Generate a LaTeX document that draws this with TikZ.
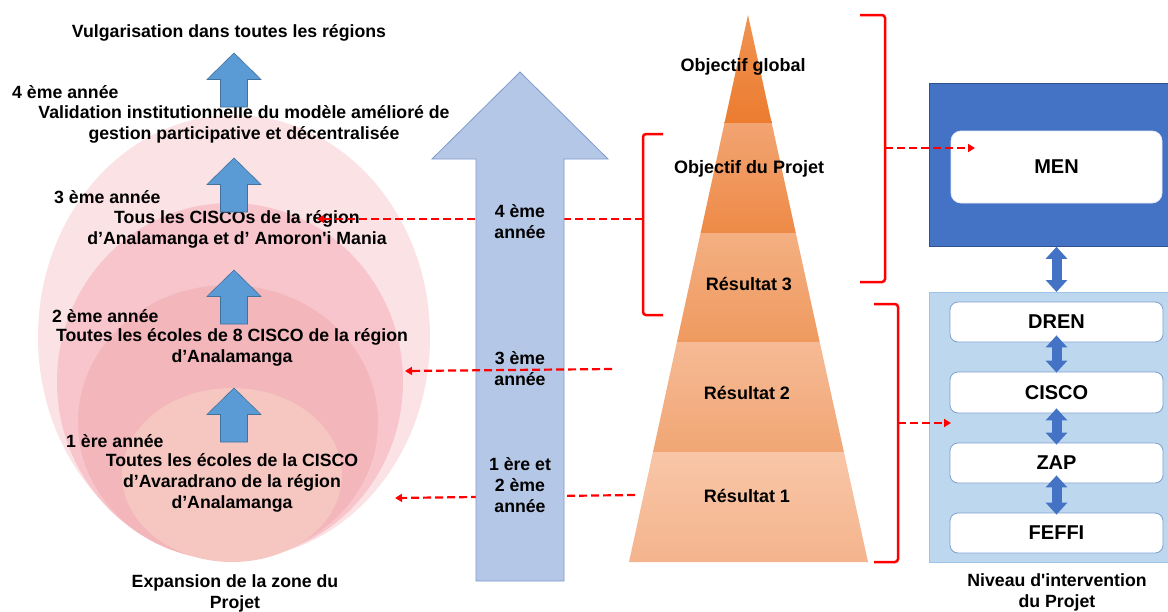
\documentclass[tikz,border=0pt]{standalone}
\usepackage{fontspec}
\setmainfont{Liberation Sans}[Ligatures=TeXOff]
\usetikzlibrary{arrows.meta}
\definecolor{ellA}{HTML}{FBE2E5}
\definecolor{ellB}{HTML}{F8C5CC}
\definecolor{ellC}{HTML}{F2B6BB}
\definecolor{ellD}{HTML}{F6C6C1}
\definecolor{arrBlue}{HTML}{5B9BD5}
\definecolor{arrBlueEdge}{HTML}{41719C}
\definecolor{bigArr}{HTML}{B4C7E7}
\definecolor{bigArrEdge}{HTML}{7F9BCB}
\definecolor{menBlue}{HTML}{4472C4}
\definecolor{menEdge}{HTML}{2F528F}
\definecolor{lvlBlue}{HTML}{BDD7EE}
\definecolor{lvlEdge}{HTML}{9DC3E6}
\definecolor{boxEdge}{HTML}{7F9FD0}
\definecolor{pA1}{HTML}{F09352}\definecolor{pA2}{HTML}{EC7C30}
\definecolor{pB1}{HTML}{F2A472}\definecolor{pB2}{HTML}{EE8A47}
\definecolor{pC1}{HTML}{F4AF82}\definecolor{pC2}{HTML}{EF9A5F}
\definecolor{pD1}{HTML}{F6BA95}\definecolor{pD2}{HTML}{F1A674}
\definecolor{pE1}{HTML}{F8C6A7}\definecolor{pE2}{HTML}{F4B48D}
\begin{document}
\begin{tikzpicture}[x=1pt,y=-1pt,
  lbl/.style={font=\bfseries\fontsize{17.7}{21}\selectfont,align=center,inner sep=0pt},
  lblw/.style={lbl,anchor=west},
  pyrlbl/.style={font=\bfseries\fontsize{18}{21}\selectfont,align=center,inner sep=0pt},
  smallarrow/.style={fill=arrBlue,draw=arrBlueEdge,line width=0.6pt},
  pics/smallup/.style={code={\path[smallarrow] (0,0) -- (27,26.5) -- (13.5,26.5) -- (13.5,54) -- (-13.5,54) -- (-13.5,26.5) -- (-27,26.5) -- cycle;}},
  rdash/.style={draw=red,line width=2.2pt,dash pattern=on 8pt off 4pt,-{Triangle[length=7pt,width=8pt]}},
  bracket/.style={draw=red,line width=2.5pt,rounded corners=3pt},
  dbl/.style={draw=menBlue,line width=10pt,{Triangle[width=21pt,length=12pt]}-{Triangle[width=21pt,length=12pt]}},
  wbox/.style={draw=boxEdge,fill=white,rounded corners=8pt,line width=0.8pt,minimum width=213pt,inner sep=0pt,font=\bfseries\fontsize{20}{24}\selectfont},
  panel/.style={anchor=north west,inner sep=0pt,minimum width=241pt},
]
\useasboundingbox (0,0) rectangle (1168,611);
\fill[white] (0,0) rectangle (1168,611);

% expansion ellipses
\fill[ellA] (234,337) ellipse [x radius=196pt, y radius=222pt];
\fill[ellB] (230,381.5) ellipse [x radius=173pt, y radius=178.5pt];
\fill[ellC] (228,422.5) ellipse [x radius=150pt, y radius=137.5pt];
\fill[ellD] (232,475) ellipse [x radius=110pt, y radius=87pt];

% left texts
\node[lbl] (vulg) at (229,33) {Vulgarisation dans toutes les régions};
\node[lblw] (y4) at (12,92) {4 ème année};
\node[lbl] (val) at (244,124.5) {Validation institutionnelle du modèle amélioré de\\gestion participative et décentralisée};
\node[lblw] (y3) at (54,197) {3 ème année};
\node[lbl] (cis) at (237,229.5) {Tous les CISCOs de la région\\d’Analamanga et d’ Amoron'i Mania};
\node[lblw] (y2) at (52,316) {2 ème année};
\node[lbl] (eco8) at (232,347.5) {Toutes les écoles de 8 CISCO de la région\\d’Analamanga};
\node[lblw] (y1) at (66,441) {1 ère année};
\node[lbl] (eco1) at (232,483) {Toutes les écoles de la CISCO\\d’Avaradrano de la région\\d’Analamanga};
\node[lbl] (exp) at (235,593) {Expansion de la zone du\\Projet};

% small blue arrows
\pic at (234,53) {smallup};
\pic at (234,158) {smallup};
\pic at (234,270) {smallup};
\pic at (234,388) {smallup};

% brackets and their coordinates
\draw[bracket] (663,134) -- (643,134) -- (643,315) -- (663,315);
\draw[bracket] (860,15) -- (885,15) -- (885,282) -- (860,282);
\draw[bracket] (874,304) -- (898,304) -- (898,562) -- (874,562);
\coordinate (brL) at (643,219);
\coordinate (brR) at (885,148);
\coordinate (brD) at (898,423);
\coordinate (tgt4) at (317,219);
\coordinate (src3) at (612,369);
\coordinate (tgt3) at (405,371);
\coordinate (src1) at (635,495);
\coordinate (tgt1) at (395,498);
\coordinate (tgtMen) at (975,148);
\coordinate (tgtLvl) at (951,423);

% dashed arrows behind the big arrow
\draw[rdash] (brL) -- (tgt4);
\draw[rdash] (src1) -- (tgt1);

% big arrow
\path[fill=bigArr,draw=bigArrEdge,line width=0.8pt] (520,72) -- (608,159) -- (564,159) -- (564,581) -- (476,581) -- (476,159) -- (432,159) -- cycle;
\draw[rdash] (src3) -- (tgt3);
\node[lbl] (a4) at (520,221.5) {4 ème\\année};
\node[lbl] (a3) at (520,369) {3 ème\\année};
\node[lbl] (a1) at (520,485.5) {1 ère et\\2 ème\\année};

% pyramid
\shade[top color=pA1,bottom color=pA2] (748,15) -- (771.7,123) -- (724.5,123) -- cycle;
\shade[top color=pB1,bottom color=pB2] (724.5,123) -- (771.7,123) -- (795.8,233) -- (700.6,233) -- cycle;
\shade[top color=pC1,bottom color=pC2] (700.6,233) -- (795.8,233) -- (819.7,342) -- (676.9,342) -- cycle;
\shade[top color=pD1,bottom color=pD2] (676.9,342) -- (819.7,342) -- (843.9,452) -- (653,452) -- cycle;
\shade[top color=pE1,bottom color=pE2] (653,452) -- (843.9,452) -- (868,562) -- (629,562) -- cycle;
\node[pyrlbl] (og) at (743,67) {Objectif global};
\node[pyrlbl] (op) at (749,169) {Objectif du Projet};
\node[pyrlbl] (r3) at (749,284) {Résultat 3};
\node[pyrlbl] (r2) at (747,393) {Résultat 2};
\node[pyrlbl] (r1) at (747,496) {Résultat 1};

% right panels
\node[panel,fill=menBlue,draw=menEdge,line width=0.8pt,minimum height=163pt] (menrect) at (929,83) {};
\node[panel,fill=lvlBlue,draw=lvlEdge,line width=0.8pt,minimum height=270pt] (lvl) at (929,292) {};
\node[wbox,draw=white!85!menBlue,minimum width=211pt,minimum height=72pt,rounded corners=10pt] (men) at (1056.5,167) {MEN};
\node[wbox,minimum height=40pt] (dren) at (1056.5,322) {DREN};
\node[wbox,minimum height=41pt] (cisco) at (1056.5,392.5) {CISCO};
\node[wbox,minimum height=40pt] (zap) at (1056.5,463) {ZAP};
\node[wbox,minimum height=40pt] (feffi) at (1056.5,533) {FEFFI};
\draw[dbl] (menrect.south -| men) -- (lvl.north -| men);
\draw[dbl] ([yshift=7pt]dren.south) -- ([yshift=-1pt]cisco.north);
\draw[dbl] ([yshift=5pt]cisco.south) -- ([yshift=-2pt]zap.north);
\draw[dbl] ([yshift=8pt]zap.south) -- ([yshift=-2pt]feffi.north);
\draw[rdash] (brR) -- (tgtMen);
\draw[rdash] (brD) -- (tgtLvl);
\node[lbl] (niv) at (1057,592.5) {Niveau d'intervention\\du Projet};
\end{tikzpicture}
\end{document}
